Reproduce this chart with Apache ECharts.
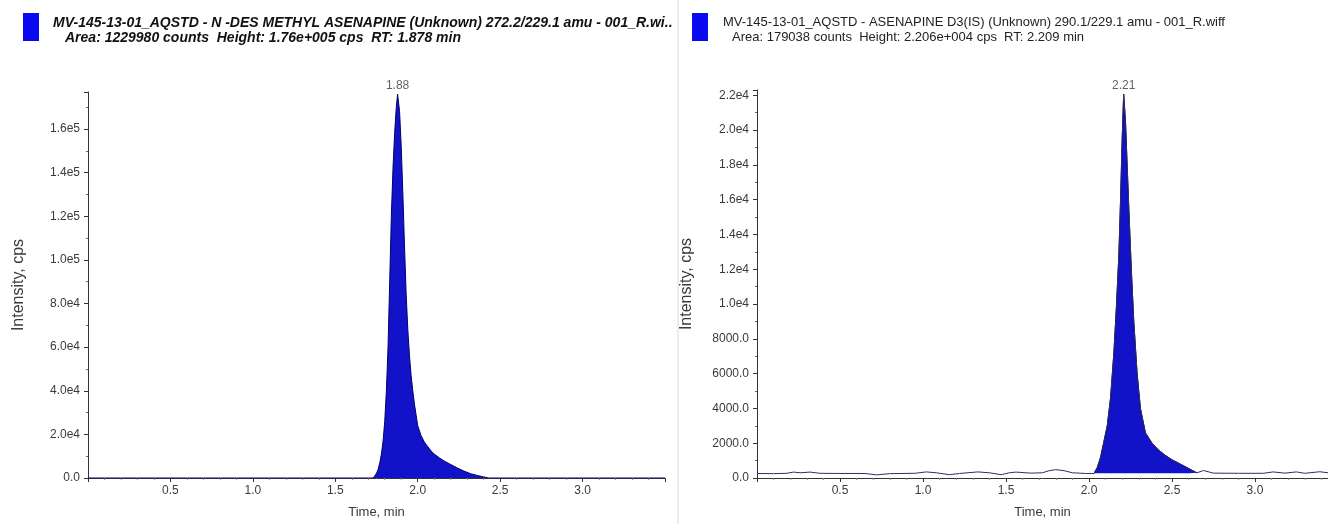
<!DOCTYPE html>
<html><head><meta charset="utf-8">
<script src="https://cdn.jsdelivr.net/npm/echarts@6/dist/echarts.min.js"></script>
<style>html,body{margin:0;padding:0;background:#fff}#c{width:1328px;height:524px}</style>
</head><body><div id="c"></div>
<script>
// ---- text ----
const leftTitle1 = 'MV-145-13-01_AQSTD - N -DES METHYL ASENAPINE (Unknown) 272.2/229.1 amu - 001_R.wi..';
const leftTitle2 = 'Area: 1229980 counts  Height: 1.76e+005 cps  RT: 1.878 min';
const rightTitle1 = 'MV-145-13-01_AQSTD - ASENAPINE D3(IS) (Unknown) 290.1/229.1 amu - 001_R.wiff';
const rightTitle2 = 'Area: 179038 counts  Height: 2.206e+004 cps  RT: 2.209 min';
const yName = 'Intensity, cps';
const xName = 'Time, min';

// ---- tick labels ----
const xTickValues = [0.5, 1.0, 1.5, 2.0, 2.5, 3.0];
const xTickLabels = ['0.5', '1.0', '1.5', '2.0', '2.5', '3.0'];
const leftYTickValues = [0, 20000, 40000, 60000, 80000, 100000, 120000, 140000, 160000];
const leftYTickLabels = ['0.0', '2.0e4', '4.0e4', '6.0e4', '8.0e4', '1.0e5', '1.2e5', '1.4e5', '1.6e5'];
const rightYTickValues = [0, 2000, 4000, 6000, 8000, 10000, 12000, 14000, 16000, 18000, 20000, 22000];
const rightYTickLabels = ['0.0', '2000.0', '4000.0', '6000.0', '8000.0', '1.0e4', '1.2e4', '1.4e4', '1.6e4', '1.8e4', '2.0e4', '2.2e4'];

// ---- left trace: N-desmethyl asenapine [time, cps] ----
const leftTrace = [
  [0.0, 0], [1.73, 0], [1.74, 1000], [1.75, 2200], [1.76, 4000], [1.77, 7000], [1.78, 11000],
  [1.79, 17000], [1.80, 26000], [1.81, 40000], [1.82, 60000], [1.83, 90000], [1.84, 120000],
  [1.85, 142000], [1.86, 158000], [1.87, 170000], [1.878, 176000], [1.89, 168000], [1.90, 152000],
  [1.91, 130000], [1.92, 106000], [1.93, 84000], [1.94, 68000], [1.95, 56000], [1.96, 47000],
  [1.97, 40000], [1.98, 34000], [1.99, 29000], [2.00, 24000], [2.02, 19500], [2.04, 16500],
  [2.06, 14500], [2.08, 12500], [2.10, 11000], [2.13, 9300], [2.16, 7800], [2.20, 6200],
  [2.24, 4600], [2.28, 3200], [2.32, 2000], [2.36, 1200], [2.40, 500], [2.43, 0], [3.5, 0]
];
const leftPeak = [1.878, 176000];
const leftPeakLabel = '1.88';

// ---- right trace: asenapine D3 (IS) [time, cps] ----
const rightTrace = [
  [0.0, 260], [0.10, 250], [0.18, 270], [0.22, 340], [0.26, 300], [0.32, 340], [0.38, 270],
  [0.50, 260], [0.65, 260], [0.72, 180], [0.80, 250], [0.95, 270], [1.02, 350], [1.08, 300],
  [1.16, 190], [1.22, 260], [1.33, 350], [1.40, 300], [1.47, 190], [1.52, 300], [1.56, 340],
  [1.65, 280], [1.72, 300], [1.76, 420], [1.80, 480], [1.85, 420], [1.90, 300], [1.98, 260],
  [2.03, 260], [2.05, 600], [2.07, 1200], [2.09, 2100], [2.11, 3000], [2.13, 4600], [2.15, 7200],
  [2.165, 9800], [2.18, 12800], [2.19, 15900], [2.20, 19500], [2.209, 22060], [2.22, 20500],
  [2.23, 18000], [2.24, 15500], [2.255, 12000], [2.27, 9000], [2.29, 6000], [2.31, 4000],
  [2.34, 2600], [2.38, 2000], [2.42, 1600], [2.46, 1300], [2.50, 1050], [2.55, 800], [2.60, 550],
  [2.65, 300], [2.69, 430], [2.75, 280], [2.90, 270], [3.05, 270], [3.11, 350], [3.18, 280],
  [3.25, 350], [3.30, 270], [3.39, 360], [3.44, 300]
];
const rightPeakStart = 2.03, rightPeakEnd = 2.65, rightBaseline = 270;
const rightPeak = [2.209, 22060];
const rightPeakLabel = '2.21';

// ---- helpers ----
function lookup(vals, labels) {
  return function (v) {
    for (let i = 0; i < vals.length; i++) if (Math.abs(v - vals[i]) < 1e-6) return labels[i];
    return '';
  };
}
const AX = '#333';
const LBL = '#3a3a3a';
const FONT = 'Liberation Sans, Arial, sans-serif';

function xAxis(grid, max) {
  return {
    type: 'value', gridIndex: grid, min: 0, max: max, interval: 0.5,
    name: xName, nameLocation: 'middle', nameGap: 28,
    nameTextStyle: { color: LBL, fontSize: 13, fontFamily: FONT },
    axisLine: { show: true, onZero: false, lineStyle: { color: AX, width: 1 } },
    axisTick: { show: true, length: 4, lineStyle: { color: AX } },
    minorTick: { show: true, splitNumber: 5, length: 2, lineStyle: { color: '#888' } },
    axisLabel: { color: LBL, fontSize: 12, fontFamily: FONT, margin: 7, formatter: lookup(xTickValues, xTickLabels), showMaxLabel: false },
    splitLine: { show: false }
  };
}
function yAxis(grid, max, interval, vals, labels, gap) {
  return {
    type: 'value', gridIndex: grid, min: 0, max: max, interval: interval,
    name: yName, nameLocation: 'middle', nameGap: gap, nameRotate: 90,
    nameTextStyle: { color: LBL, fontSize: 16, fontFamily: FONT },
    axisLine: { show: true, lineStyle: { color: AX, width: 1 } },
    axisTick: { show: true, length: 4, lineStyle: { color: AX } },
    minorTick: { show: true, splitNumber: 2, length: 2, lineStyle: { color: '#666' } },
    axisLabel: { color: LBL, fontSize: 12, fontFamily: FONT, margin: 8, formatter: lookup(vals, labels) },
    splitLine: { show: false }
  };
}

const chart = echarts.init(document.getElementById('c'), null, { renderer: 'canvas' });
const option = {
  backgroundColor: '#ffffff',
  animation: false,
  grid: [
    { left: 88, right: 663, top: 92, bottom: 42 },
    { left: 757, right: 0, top: 90, bottom: 42 }
  ],
  xAxis: [xAxis(0, 3.5), xAxis(1, 3.44)],
  yAxis: [
    yAxis(0, 177000, 20000, leftYTickValues, leftYTickLabels, 61),
    yAxis(1, 22300, 2000, rightYTickValues, rightYTickLabels, 62)
  ],
  series: [
    {
      type: 'line', xAxisIndex: 0, yAxisIndex: 0, data: leftTrace, showSymbol: false,
      lineStyle: { color: '#00006e', width: 1 },
      areaStyle: { color: '#1212c8', opacity: 1 }
    },
    {
      type: 'line', xAxisIndex: 1, yAxisIndex: 1, z: 3,
      data: rightTrace.filter(p => p[0] >= rightPeakStart && p[0] <= rightPeakEnd),
      showSymbol: false, lineStyle: { color: '#00006e', width: 1 },
      areaStyle: { color: '#1212c8', opacity: 1, origin: rightBaseline }
    },
    {
      type: 'line', xAxisIndex: 1, yAxisIndex: 1, data: rightTrace, showSymbol: false, z: 4,
      lineStyle: { color: '#2e2e66', width: 1 }
    },
    {
      type: 'scatter', xAxisIndex: 0, yAxisIndex: 0, data: [leftPeak], symbolSize: 1,
      itemStyle: { color: 'rgba(0,0,0,0)' },
      label: { show: true, position: 'top', distance: 2, formatter: leftPeakLabel, color: LBL, fontSize: 12, fontFamily: FONT }
    },
    {
      type: 'scatter', xAxisIndex: 1, yAxisIndex: 1, data: [rightPeak], symbolSize: 1,
      itemStyle: { color: 'rgba(0,0,0,0)' },
      label: { show: true, position: 'top', distance: 2, formatter: rightPeakLabel, color: LBL, fontSize: 12, fontFamily: FONT }
    }
  ],
  graphic: [
    { type: 'rect', shape: { x: 677, y: 0, width: 2, height: 524 }, style: { fill: '#efece2' } },
    { type: 'rect', shape: { x: 23, y: 13, width: 16, height: 28 }, style: { fill: '#0a0af0' } },
    { type: 'rect', shape: { x: 692, y: 13, width: 16, height: 28 }, style: { fill: '#0a0af0' } },
    { type: 'text', x: 53, y: 16, style: { text: leftTitle1, fill: '#111', font: 'italic bold 14px "Liberation Sans", Arial, sans-serif' } },
    { type: 'text', x: 65, y: 31, style: { text: leftTitle2, fill: '#111', font: 'italic bold 14px "Liberation Sans", Arial, sans-serif' } },
    { type: 'text', x: 723, y: 16, style: { text: rightTitle1, fill: '#222', font: '13px "Liberation Sans", Arial, sans-serif' } },
    { type: 'text', x: 732, y: 31, style: { text: rightTitle2, fill: '#222', font: '13px "Liberation Sans", Arial, sans-serif' } }
  ]
};
chart.setOption(option);
</script>
</body></html>
